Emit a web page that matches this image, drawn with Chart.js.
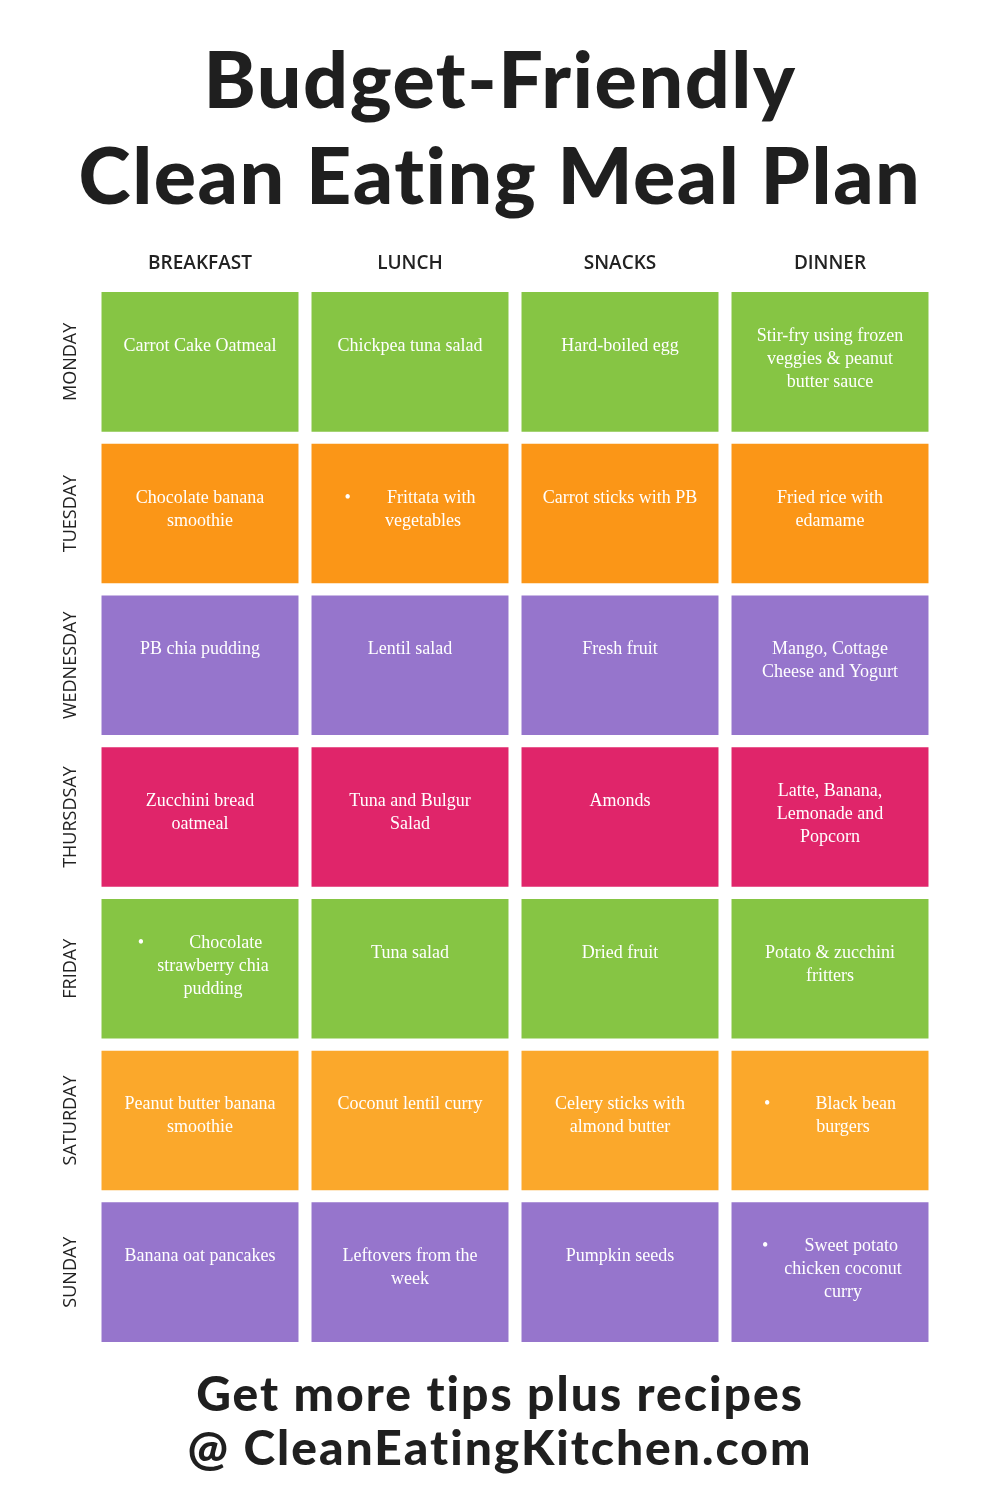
<!DOCTYPE html>
<html>
<head>
<meta charset="utf-8">
<script src="https://cdn.jsdelivr.net/npm/chart.js@4"></script>
<style>
body { margin: 0; background: #fff; }
#wrap { position: relative; width: 1000px; height: 1500px; }
#chart { position: absolute; left: 0; top: 0; }
h1 { position: absolute; top: 30px; left: 0; width: 1000px; margin: 0; text-align: center;
  font-family: "Lato", sans-serif; font-weight: 900; font-size: 79px; line-height: 96px; color: #1f1f1f; letter-spacing: 1.5px; }
.foot { position: absolute; top: 1366px; left: 0; width: 1000px; text-align: center;
  font-family: "Lato", sans-serif; font-weight: 900; font-size: 48px; line-height: 54px; color: #1f1f1f; letter-spacing: 2px; }
</style>
</head>
<body>
<div id="wrap">
<canvas id="chart" width="1000" height="1500"></canvas>
<h1>Budget-Friendly<br>Clean Eating Meal Plan</h1>
<div class="foot">Get more tips plus recipes<br>@ CleanEatingKitchen.com</div>
</div>
<script>
const meals = ['BREAKFAST', 'LUNCH', 'SNACKS', 'DINNER']
const days = ['MONDAY', 'TUESDAY', 'WEDNESDAY', 'THURSDSAY', 'FRIDAY', 'SATURDAY', 'SUNDAY']
const dayColors = ['#86c544', '#fb9617', '#9675cc', '#e0256a', '#86c544', '#fba82b', '#9675cc']
const menu = [
  ['Carrot Cake Oatmeal', 'Chickpea tuna salad', 'Hard-boiled egg', 'Stir-fry using frozen\nveggies & peanut\nbutter sauce'],
  ['Chocolate banana\nsmoothie', '•        Frittata with\nvegetables', 'Carrot sticks with PB', 'Fried rice with\nedamame'],
  ['PB chia pudding', 'Lentil salad', 'Fresh fruit', 'Mango, Cottage\nCheese and Yogurt'],
  ['Zucchini bread\noatmeal', 'Tuna and Bulgur\nSalad', 'Amonds', 'Latte, Banana,\nLemonade and\nPopcorn'],
  ['•          Chocolate\nstrawberry chia\npudding', 'Tuna salad', 'Dried fruit', 'Potato & zucchini\nfritters'],
  ['Peanut butter banana\nsmoothie', 'Coconut lentil curry', 'Celery sticks with\nalmond butter', '•          Black bean\nburgers'],
  ['Banana oat pancakes', 'Leftovers from the\nweek', 'Pumpkin seeds', '•        Sweet potato\nchicken coconut\ncurry']
]

const datasets = days.map((d, i) => ({
  label: d,
  data: meals.map(() => [i + 0.04, i + 0.96]),
  backgroundColor: dayColors[i],
  grouped: false,
  barPercentage: 0.938,
  categoryPercentage: 1
}))

const textPlugin = {
  id: 'cellText',
  afterDatasetsDraw(chart) {
    const ctx = chart.ctx
    const y = chart.scales.y
    ctx.save()
    ctx.fillStyle = '#ffffff'
    ctx.textAlign = 'center'
    ctx.textBaseline = 'middle'
    ctx.font = '18px "Liberation Serif", serif'
    chart.data.datasets.forEach((ds, i) => {
      chart.getDatasetMeta(i).data.forEach((bar, j) => {
        const lines = menu[i][j].split('\n')
        const top = y.getPixelForValue(i + 0.04)
        const start = top + (lines.length > 2 ? 44 : 54)
        lines.forEach((ln, k) => {
          let x = bar.x
          if (lines[0].startsWith('•') && k > 0) x = bar.x + 13
          ctx.fillText(ln, x, start + k * 23)
        })
      })
    })
    // column headers
    ctx.fillStyle = '#222'
    ctx.font = '600 19px "Open Sans", sans-serif'
    chart.getDatasetMeta(0).data.forEach((bar, j) => {
      ctx.fillText(meals[j], bar.x, 264)
    })
    // day labels
    ctx.font = '500 18px "Open Sans", sans-serif'
    days.forEach((d, i) => {
      ctx.save()
      ctx.translate(71, y.getPixelForValue(i + 0.5))
      ctx.rotate(-Math.PI / 2)
      ctx.fillText(d, 0, 0)
      ctx.restore()
    })
    ctx.restore()
  }
}

new Chart(document.getElementById('chart'), {
  type: 'bar',
  data: { labels: meals, datasets: datasets },
  options: {
    responsive: false,
    animation: false,
    layout: { padding: { left: 95, right: 65, top: 286, bottom: 152 } },
    scales: {
      x: { display: false },
      y: { display: false, min: 0, max: 7, reverse: true }
    },
    plugins: { legend: { display: false }, tooltip: { enabled: false } }
  },
  plugins: [textPlugin]
})
</script>
</body>
</html>
